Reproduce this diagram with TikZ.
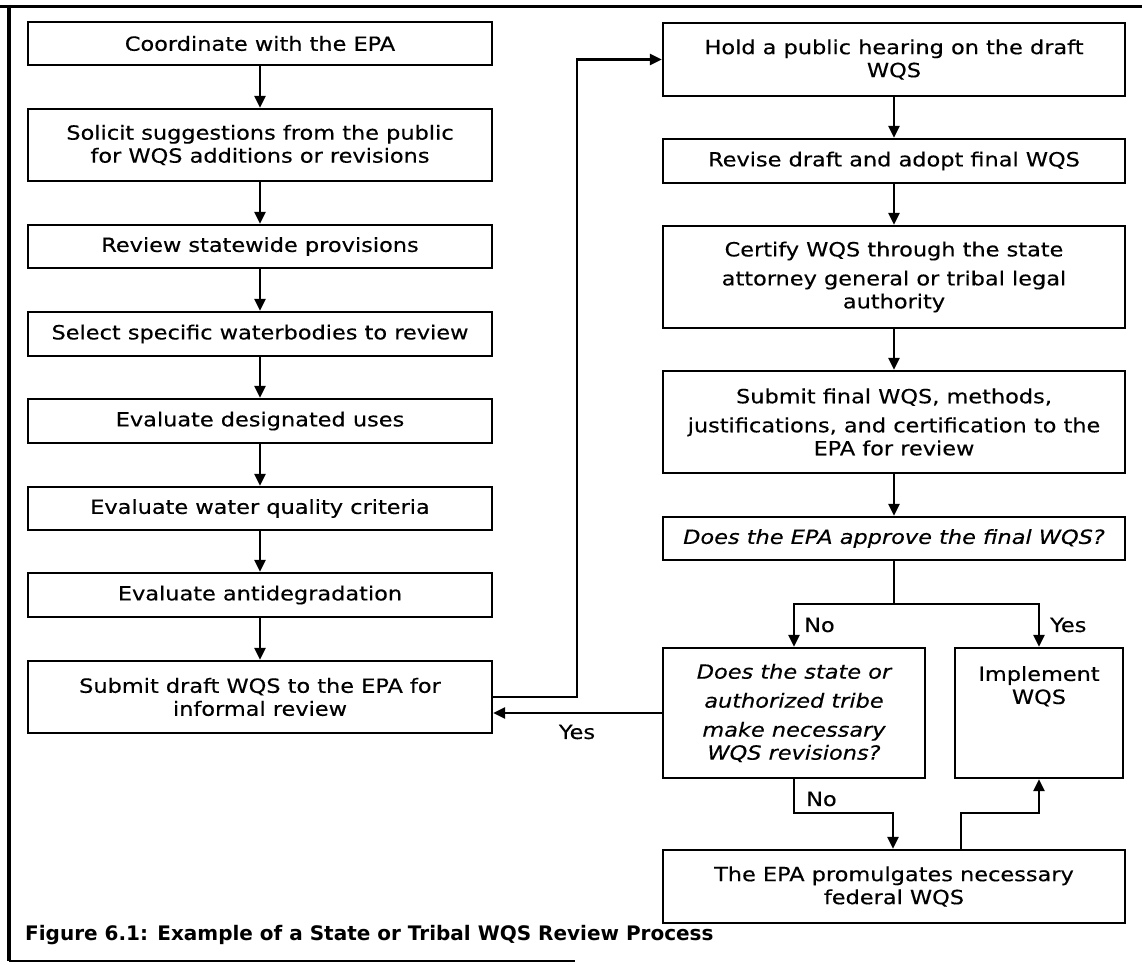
\documentclass[tikz,border=0pt]{standalone}
\usepackage{fontspec}
\setmainfont{DejaVu Sans}[FakeStretch=1.15, FakeBold=0.4]
\newfontfamily\capfont{DejaVu Sans}
\usetikzlibrary{positioning, arrows.meta}

\begin{document}
\begin{tikzpicture}[x=1pt, y=-1pt,
  stepbox/.style={draw, line width=2.2pt, inner sep=0pt, align=center, font=\fontsize{19.5}{23}\selectfont},
  leftbox/.style={stepbox, minimum width=464pt},
  rightbox/.style={stepbox, minimum width=462pt},
  askbox/.style={stepbox, font=\fontsize{19.5}{23}\selectfont\itshape},
  flow/.style={line width=2.5pt},
  arrow/.style={flow, -{Triangle[length=12pt, width=11pt]}},
  lbl/.style={font=\fontsize{19.5}{23}\selectfont, inner sep=0pt}]
  \useasboundingbox (0,0) rectangle (1142,964);
  % frame
  \draw[line width=3pt] (0,6) -- (1142,6);
  \draw[line width=4pt] (9,4.5) -- (9,961);
  \draw[line width=1.5pt] (9,961) -- (575,961);
  % left column
  \node[leftbox, minimum height=43pt] (coord) at (260,43.5) {Coordinate with the EPA};
  \node[leftbox, minimum height=72pt] (solicit) at (260,145) {Solicit suggestions from the public\\for WQS additions or revisions};
  \node[leftbox, minimum height=43pt] (statewide) at (260,246.5) {Review statewide provisions};
  \node[leftbox, minimum height=44pt] (select) at (260,334) {Select specific waterbodies to review};
  \node[leftbox, minimum height=44pt] (uses) at (260,421) {Evaluate designated uses};
  \node[leftbox, minimum height=43pt] (criteria) at (260,508.5) {Evaluate water quality criteria};
  \node[leftbox, minimum height=44pt] (antideg) at (260,595) {Evaluate antidegradation};
  \node[leftbox, minimum height=72pt] (draft) at (260,697) {Submit draft WQS to the EPA for\\informal review};
  \foreach \a/\b in {coord/solicit, solicit/statewide, statewide/select, select/uses, uses/criteria, criteria/antideg, antideg/draft}
    \draw[arrow] (\a) -- (\b);
  % right column
  \node[rightbox, minimum height=73pt] (hold) at (894,59.5) {Hold a public hearing on the draft\\WQS};
  \node[rightbox, minimum height=44pt] (revise) at (894,161) {Revise draft and adopt final WQS};
  \node[rightbox, minimum height=102pt] (certify) at (894,277) {Certify WQS through the state\\[6pt]attorney general or tribal legal\\authority};
  \node[rightbox, minimum height=102pt] (final) at (894,422) {Submit final WQS, methods,\\[6pt]justifications, and certification to the\\EPA for review};
  \node[askbox, minimum width=462pt, minimum height=43pt] (decide) at (894,538.5) {Does the EPA approve the final WQS?};
  \foreach \a/\b in {hold/revise, revise/certify, certify/final, final/decide}
    \draw[arrow] (\a) -- (\b);
  % decision branches
  \node[askbox, minimum width=262pt, minimum height=130pt] (ask) at (794,713) {Does the state or\\[6pt]authorized tribe\\[6pt]make necessary\\WQS revisions?};
  \node[stepbox, minimum width=168pt, minimum height=130pt] (impl) at (1039,713) {};
  \node[lbl, align=center, anchor=north] (impltxt) at ([yshift=-19pt]impl.north) {Implement\\WQS};
  \node[rightbox, minimum height=73pt] (promul) at (894,886.5) {The EPA promulgates necessary\\federal WQS};
  \coordinate (split) at (894,604);
  \draw[flow] (decide.south) -- (split);
  \draw[arrow] (split) -| (ask.north);
  \draw[arrow] (split) -| (impl.north);
  \node[lbl, anchor=west] (nolbl) at (804,625) {No};
  \node[lbl, anchor=west] (yeslbl) at (1050,625) {Yes};
  % back to the draft, and on to the hearing
  \draw[arrow] (ask.west) -- (draft.east |- ask.west);
  \node[lbl] (backlbl) at (577,732) {Yes};
  \coordinate (riser) at (577,697);
  \draw[arrow] (draft.east) -- (riser) |- (hold.west);
  % federal route
  \coordinate (nojoin) at (893,813);
  \coordinate (upjoin) at (961,813);
  \draw[arrow] (ask.south) |- (nojoin) -- (nojoin |- promul.north);
  \node[lbl, anchor=west] (fedlbl) at (806,799) {No};
  \draw[arrow] (upjoin |- promul.north) -- (upjoin) -| (impl.south);
  % caption
  \node[anchor=base west, inner sep=0pt, font=\capfont\bfseries\fontsize{20}{24}\selectfont] (caption) at (25,940) {Figure 6.1: Example of a State or Tribal WQS Review Process};
\end{tikzpicture}
\end{document}
